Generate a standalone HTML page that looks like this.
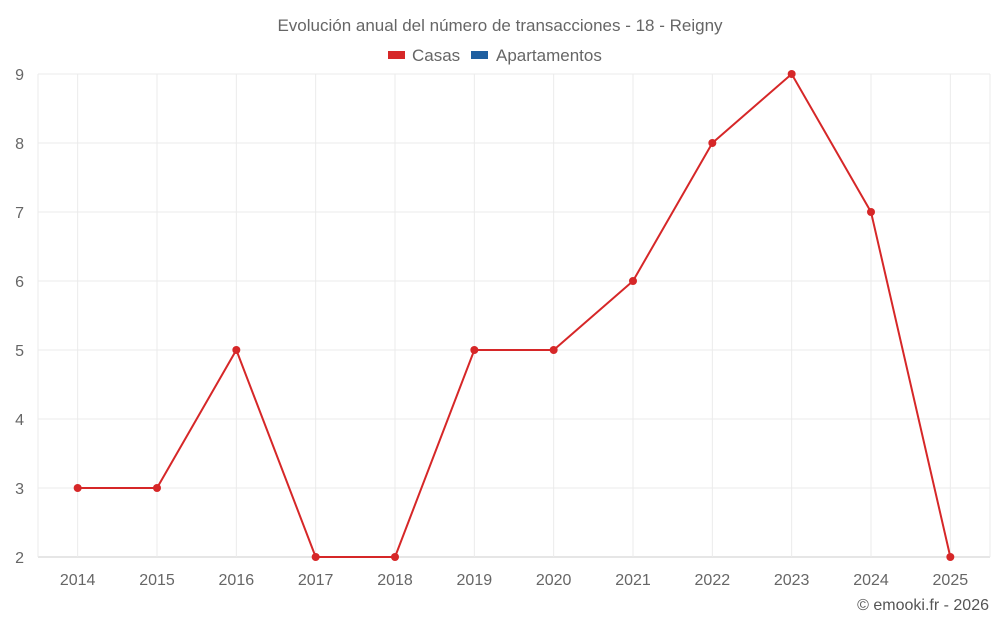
<!DOCTYPE html>
<html><head><meta charset="utf-8"><style>
body{margin:0;background:#fff;font-family:"Liberation Sans",sans-serif;}
svg text{font-family:"Liberation Sans",sans-serif;}
</style></head><body>
<svg id="c" width="1000" height="625">
<text x="500" y="31" text-anchor="middle" font-size="17" fill="#666">Evolución anual del número de transacciones - 18 - Reigny</text>
<g>
<g><rect x="388" y="51" width="17" height="8" fill="#d62728"/><text x="412" y="61" font-size="17" fill="#666">Casas</text></g>
<g><rect x="471" y="51" width="17" height="8" fill="#1f5fa0"/><text x="496" y="61" font-size="17" fill="#666">Apartamentos</text></g>
</g>
<g id="grid"></g><g id="axes"></g><g id="marks"></g>
<text x="989" y="610" text-anchor="end" font-size="16" fill="#555">© emooki.fr - 2026</text>
</svg>
<script>
const categories=["2014","2015","2016","2017","2018","2019","2020","2021","2022","2023","2024","2025"];
const casas=[3,3,5,2,2,5,5,6,8,9,7,2];
const yTicks=[2,3,4,5,6,7,8,9];
const L=38,R=990,T=74,B=557,yMin=2,yMax=9;
const bw=(R-L)/categories.length;
const x=i=>L+bw*(i+0.5);
const y=v=>B-(v-yMin)/(yMax-yMin)*(B-T);
const ns="http://www.w3.org/2000/svg";
function mk(p,t,a){const e=document.createElementNS(ns,t);for(const k in a)e.setAttribute(k,a[k]);p.appendChild(e);return e;}
const g=document.getElementById('grid'),ax=document.getElementById('axes'),m=document.getElementById('marks');
yTicks.forEach(v=>{
const l=mk(g,'line',{x1:L,x2:R,y1:y(v),y2:y(v),stroke:v===yMin?'#ccc':'#ebebeb'});


const t=mk(ax,'text',{x:L-14,y:y(v)+6,'text-anchor':'end','font-size':16,fill:'#666'});t.textContent=v;


});
categories.forEach((c,i)=>{
const l=mk(g,'line',{x1:x(i),x2:x(i),y1:T,y2:B,stroke:'#ebebeb'});


const t=mk(ax,'text',{x:x(i),y:585,'text-anchor':'middle','font-size':16,fill:'#666'});t.textContent=c;


});
[L,R].forEach(xx=>{const l=mk(g,'line',{x1:xx,x2:xx,y1:T,y2:B,stroke:'#ebebeb'});

});
const p=mk(m,'polyline',{points:casas.map((v,i)=>x(i)+','+y(v)).join(' '),fill:'none',stroke:'#d62728','stroke-width':2});


casas.forEach((v,i)=>{const d=mk(m,'circle',{cx:x(i),cy:y(v),r:4,fill:'#d62728'});

});
</script>
</body></html>
